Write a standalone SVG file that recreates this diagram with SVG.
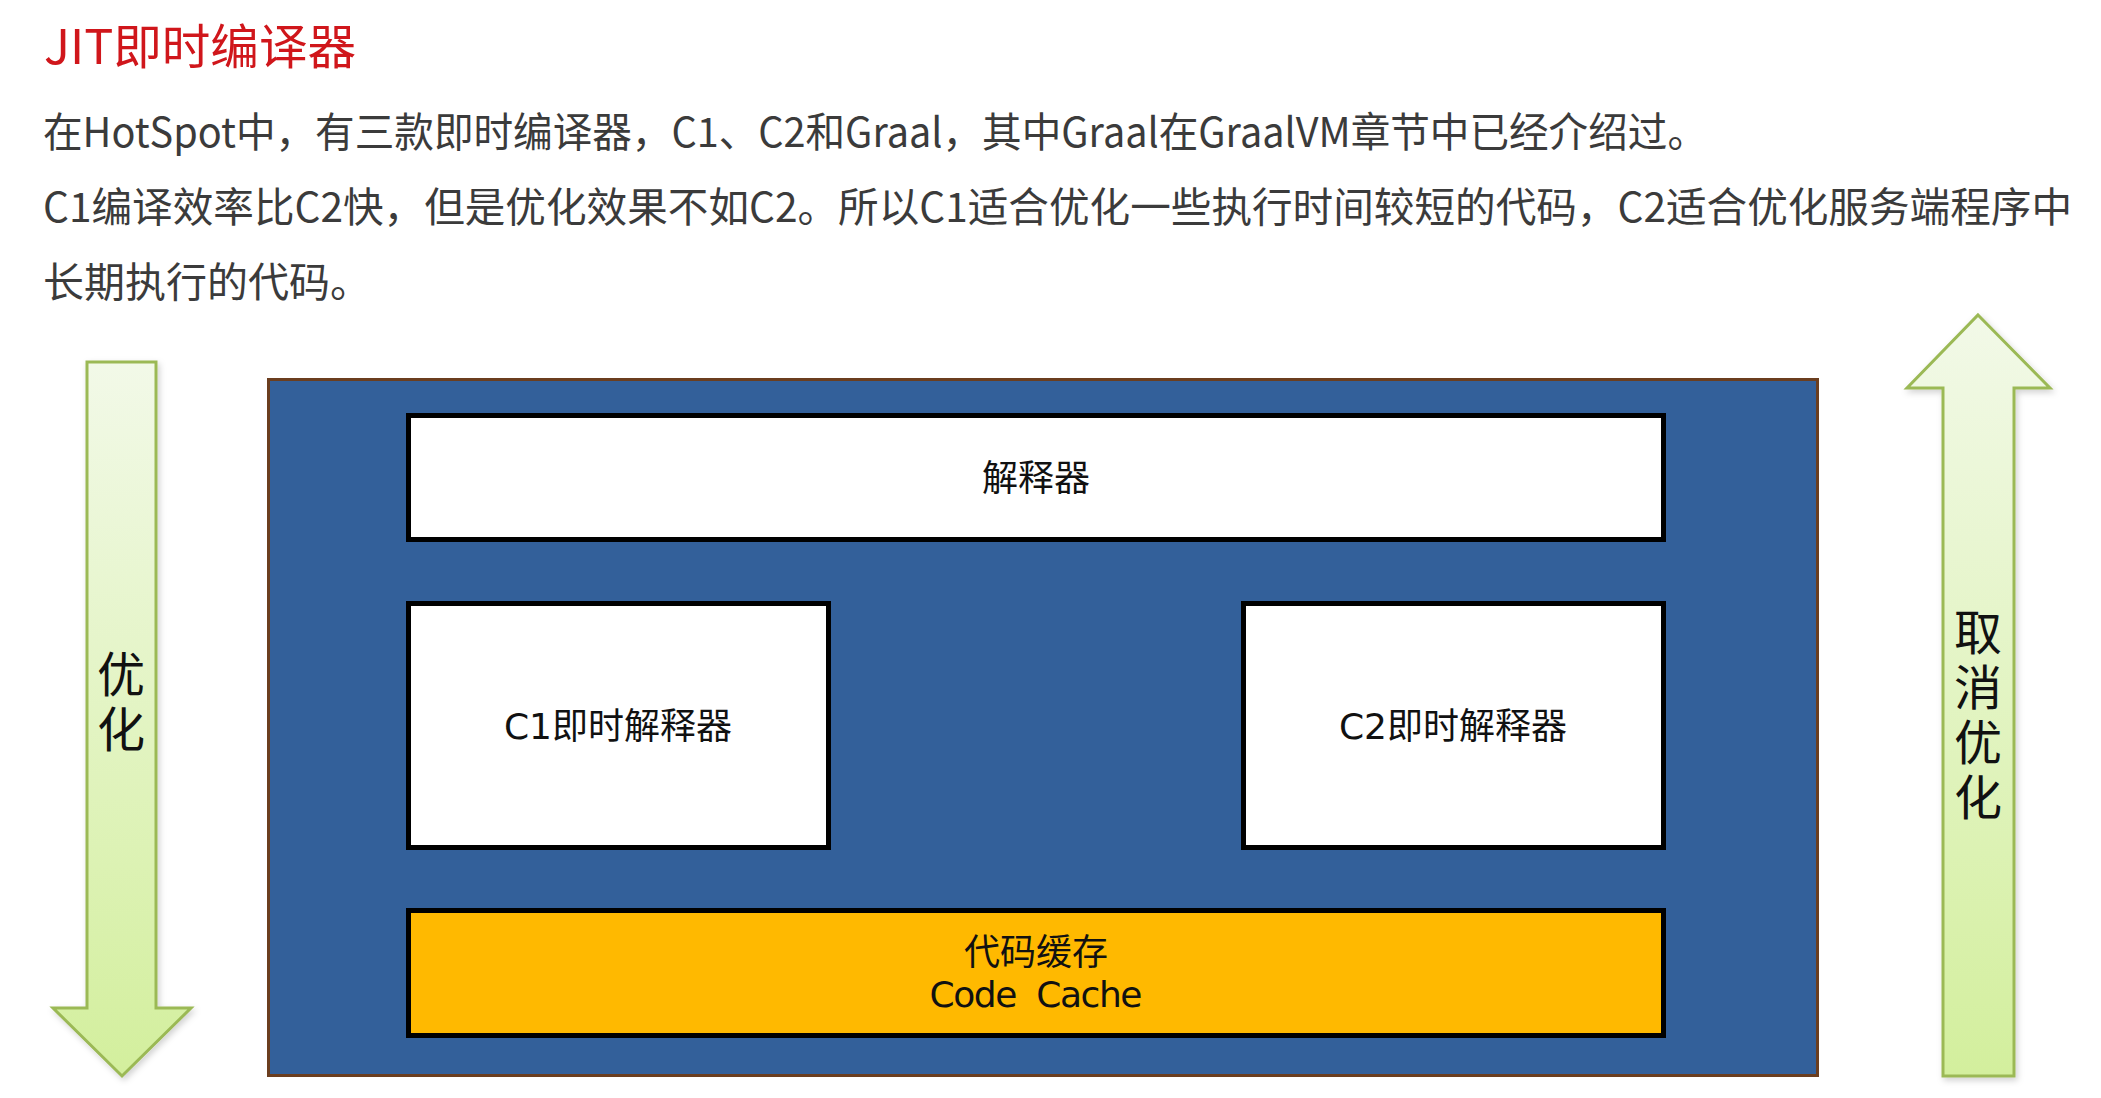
<svg xmlns="http://www.w3.org/2000/svg" width="2101" height="1098" viewBox="0 0 2101 1098">
  <style>
    .para { font-family: "Noto Sans CJK SC", "Noto Sans", sans-serif; font-size: 41px; fill: #3b3b3b; }
    .title { font-family: "Noto Sans CJK SC", "Noto Sans", sans-serif; font-size: 48px; fill: #d0161b; }
    .box { fill: #ffffff; stroke: #000000; stroke-width: 5; }
    .cache { fill: #ffb900; stroke: #000000; stroke-width: 5; }
    .label { font-family: "DejaVu Sans", "Noto Sans CJK SC", sans-serif; font-size: 36px; fill: #111111; text-anchor: middle; }
    .arrow-label { font-family: "Noto Sans CJK SC", sans-serif; font-size: 48px; fill: #111111; writing-mode: vertical-rl; letter-spacing: 7px; }
    .arrow { stroke: #9bb955; stroke-width: 3; stroke-linejoin: miter; }
  </style>
  <defs>
    <linearGradient id="greenGrad" x1="0" y1="0" x2="0" y2="1">
      <stop offset="0" stop-color="#f2f9e8"/>
      <stop offset="1" stop-color="#d3ef9d"/>
    </linearGradient>
    <filter id="softShadow" x="-20%" y="-5%" width="140%" height="110%">
      <feDropShadow dx="2" dy="3" stdDeviation="3" flood-color="#000000" flood-opacity="0.18"/>
    </filter>
  </defs>
  <rect x="0" y="0" width="2101" height="1098" fill="#ffffff"/>

  <g id="title">
    <text class="title" x="44" y="64" textLength="312" lengthAdjust="spacingAndGlyphs">JIT即时编译器</text>
  </g>

  <g id="paragraph">
    <text class="para" x="43" y="147" textLength="1664" lengthAdjust="spacingAndGlyphs">在HotSpot中，有三款即时编译器，C1、C2和Graal，其中Graal在GraalVM章节中已经介绍过。</text>
    <text class="para" x="43" y="222" textLength="2029" lengthAdjust="spacingAndGlyphs">C1编译效率比C2快，但是优化效果不如C2。所以C1适合优化一些执行时间较短的代码，C2适合优化服务端程序中</text>
    <text class="para" x="43" y="297">长期执行的代码。</text>
  </g>

  <g id="jvm-container">
    <rect x="268.5" y="379.5" width="1549" height="696" fill="#33609a" stroke="#6b3e1f" stroke-width="3"/>
  </g>

  <g id="interpreter">
    <rect class="box" x="408.5" y="415.5" width="1255" height="124"/>
    <text class="label" x="1036" y="491">解释器</text>
  </g>

  <g id="c1-compiler">
    <rect class="box" x="408.5" y="603.5" width="420" height="244"/>
    <text class="label" x="618" y="739">C1即时解释器</text>
  </g>

  <g id="c2-compiler">
    <rect class="box" x="1243.5" y="603.5" width="420" height="244"/>
    <text class="label" x="1453" y="739">C2即时解释器</text>
  </g>

  <g id="code-cache">
    <rect class="cache" x="408.5" y="910.5" width="1255" height="125"/>
    <text class="label" x="1036" y="965">代码缓存</text>
    <text class="label" x="1036" y="1007" font-size="27" textLength="213" lengthAdjust="spacing" xml:space="preserve">Code  Cache</text>
  </g>

  <g id="connectors">
    <g id="arrow-optimize">
      <polygon class="arrow" fill="url(#greenGrad)" filter="url(#softShadow)" points="87,362 156,362 156,1008 191,1008 122,1076 53,1008 87,1008"/>
      <text class="arrow-label" x="121" y="650">优化</text>
    </g>
    <g id="arrow-deoptimize">
      <polygon class="arrow" fill="url(#greenGrad)" filter="url(#softShadow)" points="1978,315 2050,388 2014,388 2014,1076 1943,1076 1943,388 1907,388"/>
      <text class="arrow-label" x="1978" y="608">取消优化</text>
    </g>
  </g>
</svg>
